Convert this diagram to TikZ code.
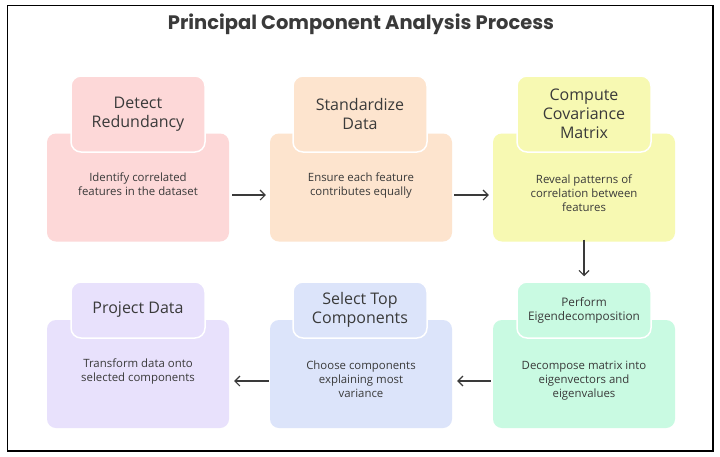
\documentclass[tikz,border=0pt]{standalone}
\usepackage{fontspec}
\setmainfont{Open Sans}
\newfontfamily\headfont{Poppins}
\usetikzlibrary{arrows.meta}
\definecolor{ink}{HTML}{3A3A3A}
\definecolor{cpink}{HTML}{FDD8D8}
\definecolor{cpeach}{HTML}{FDE4CE}
\definecolor{cyellow}{HTML}{F7F9B2}
\definecolor{cmint}{HTML}{C9FAE2}
\definecolor{cblue}{HTML}{DCE4FA}
\definecolor{clilac}{HTML}{E8E1FC}
\tikzset{
  body/.style={rectangle, rounded corners=9pt, minimum width=182pt, minimum height=108pt, draw=none},
  headbox/.style={rectangle, rounded corners=10pt, minimum width=134pt, draw=white, line width=1.5pt,
    text=ink, align=center, font=\fontsize{16}{19}\selectfont},
  bodytext/.style={anchor=north, text=ink, align=center, font=\fontsize{11.4}{14}\selectfont, inner sep=0pt},
  flow/.style={draw=ink, line width=1.1pt, -{Straight Barb[length=5pt,width=10pt]}}
}
\begin{document}
\begin{tikzpicture}[x=1pt,y=-1pt]
\useasboundingbox (0,0) rectangle (720,456);
\fill[white] (0,0) rectangle (720,456);
\draw[line width=1.8pt] (7.5,5.5) rectangle (713,451);

\node[text=ink, font=\headfont\fontsize{19.5}{22}\selectfont\bfseries] (title) at (361,24) {Principal Component Analysis Process};

% upper row
\node[body, fill=cpink] (b1) at (138,187.5) {};
\node[headbox, fill=cpink, minimum height=76pt] (h1) at (138,114) {Detect\\Redundancy};
\node[bodytext] (t1) at (138,173) {Identify correlated\\features in the dataset};

\node[body, fill=cpeach] (b2) at (361,187.5) {};
\node[headbox, fill=cpeach, minimum height=76pt] (h2) at (360,114) {Standardize\\Data};
\node[bodytext] (t2) at (361,173) {Ensure each feature\\contributes equally};

\node[body, fill=cyellow] (b3) at (584,187.5) {};
\node[headbox, fill=cyellow, minimum height=76pt] (h3) at (584,114) {Compute\\Covariance\\Matrix};
\node[bodytext] (t3) at (584,175) {Reveal patterns of\\correlation between\\features};

% lower row
\node[body, fill=cmint] (b6) at (584,374) {};
\node[headbox, fill=cmint, minimum height=56pt, font=\fontsize{11.8}{14}\selectfont] (h6) at (584,310) {Perform\\Eigendecomposition};
\node[bodytext] (t6) at (584,361) {Decompose matrix into\\eigenvectors and\\eigenvalues};

\node[body, fill=cblue] (b5) at (361,374) {};
\node[headbox, fill=cblue, minimum height=56pt] (h5) at (360,310) {Select Top\\Components};
\node[bodytext] (t5) at (361,361) {Choose components\\explaining most\\variance};

\node[body, fill=clilac] (b4) at (138,374) {};
\node[headbox, fill=clilac, minimum height=56pt] (h4) at (138,310) {Project Data};
\node[bodytext] (t4) at (138,359) {Transform data onto\\selected components};

% connectors
\draw[flow] ([xshift=3pt,yshift=-7.5pt]b1.east) -- ([xshift=-4pt,yshift=-7.5pt]b2.west);
\draw[flow] ([xshift=2pt,yshift=-7.5pt]b2.east) -- ([xshift=-4pt,yshift=-7.5pt]b3.west);
\draw[flow] ([yshift=2pt]b3.south) -- ([yshift=5pt]h6.north);
\draw[flow] ([xshift=-2pt,yshift=-7pt]b6.west) -- ([xshift=5pt,yshift=-7pt]b5.east);
\draw[flow] ([xshift=-1pt,yshift=-7pt]b5.west) -- ([xshift=5pt,yshift=-7pt]b4.east);
\end{tikzpicture}
\end{document}
